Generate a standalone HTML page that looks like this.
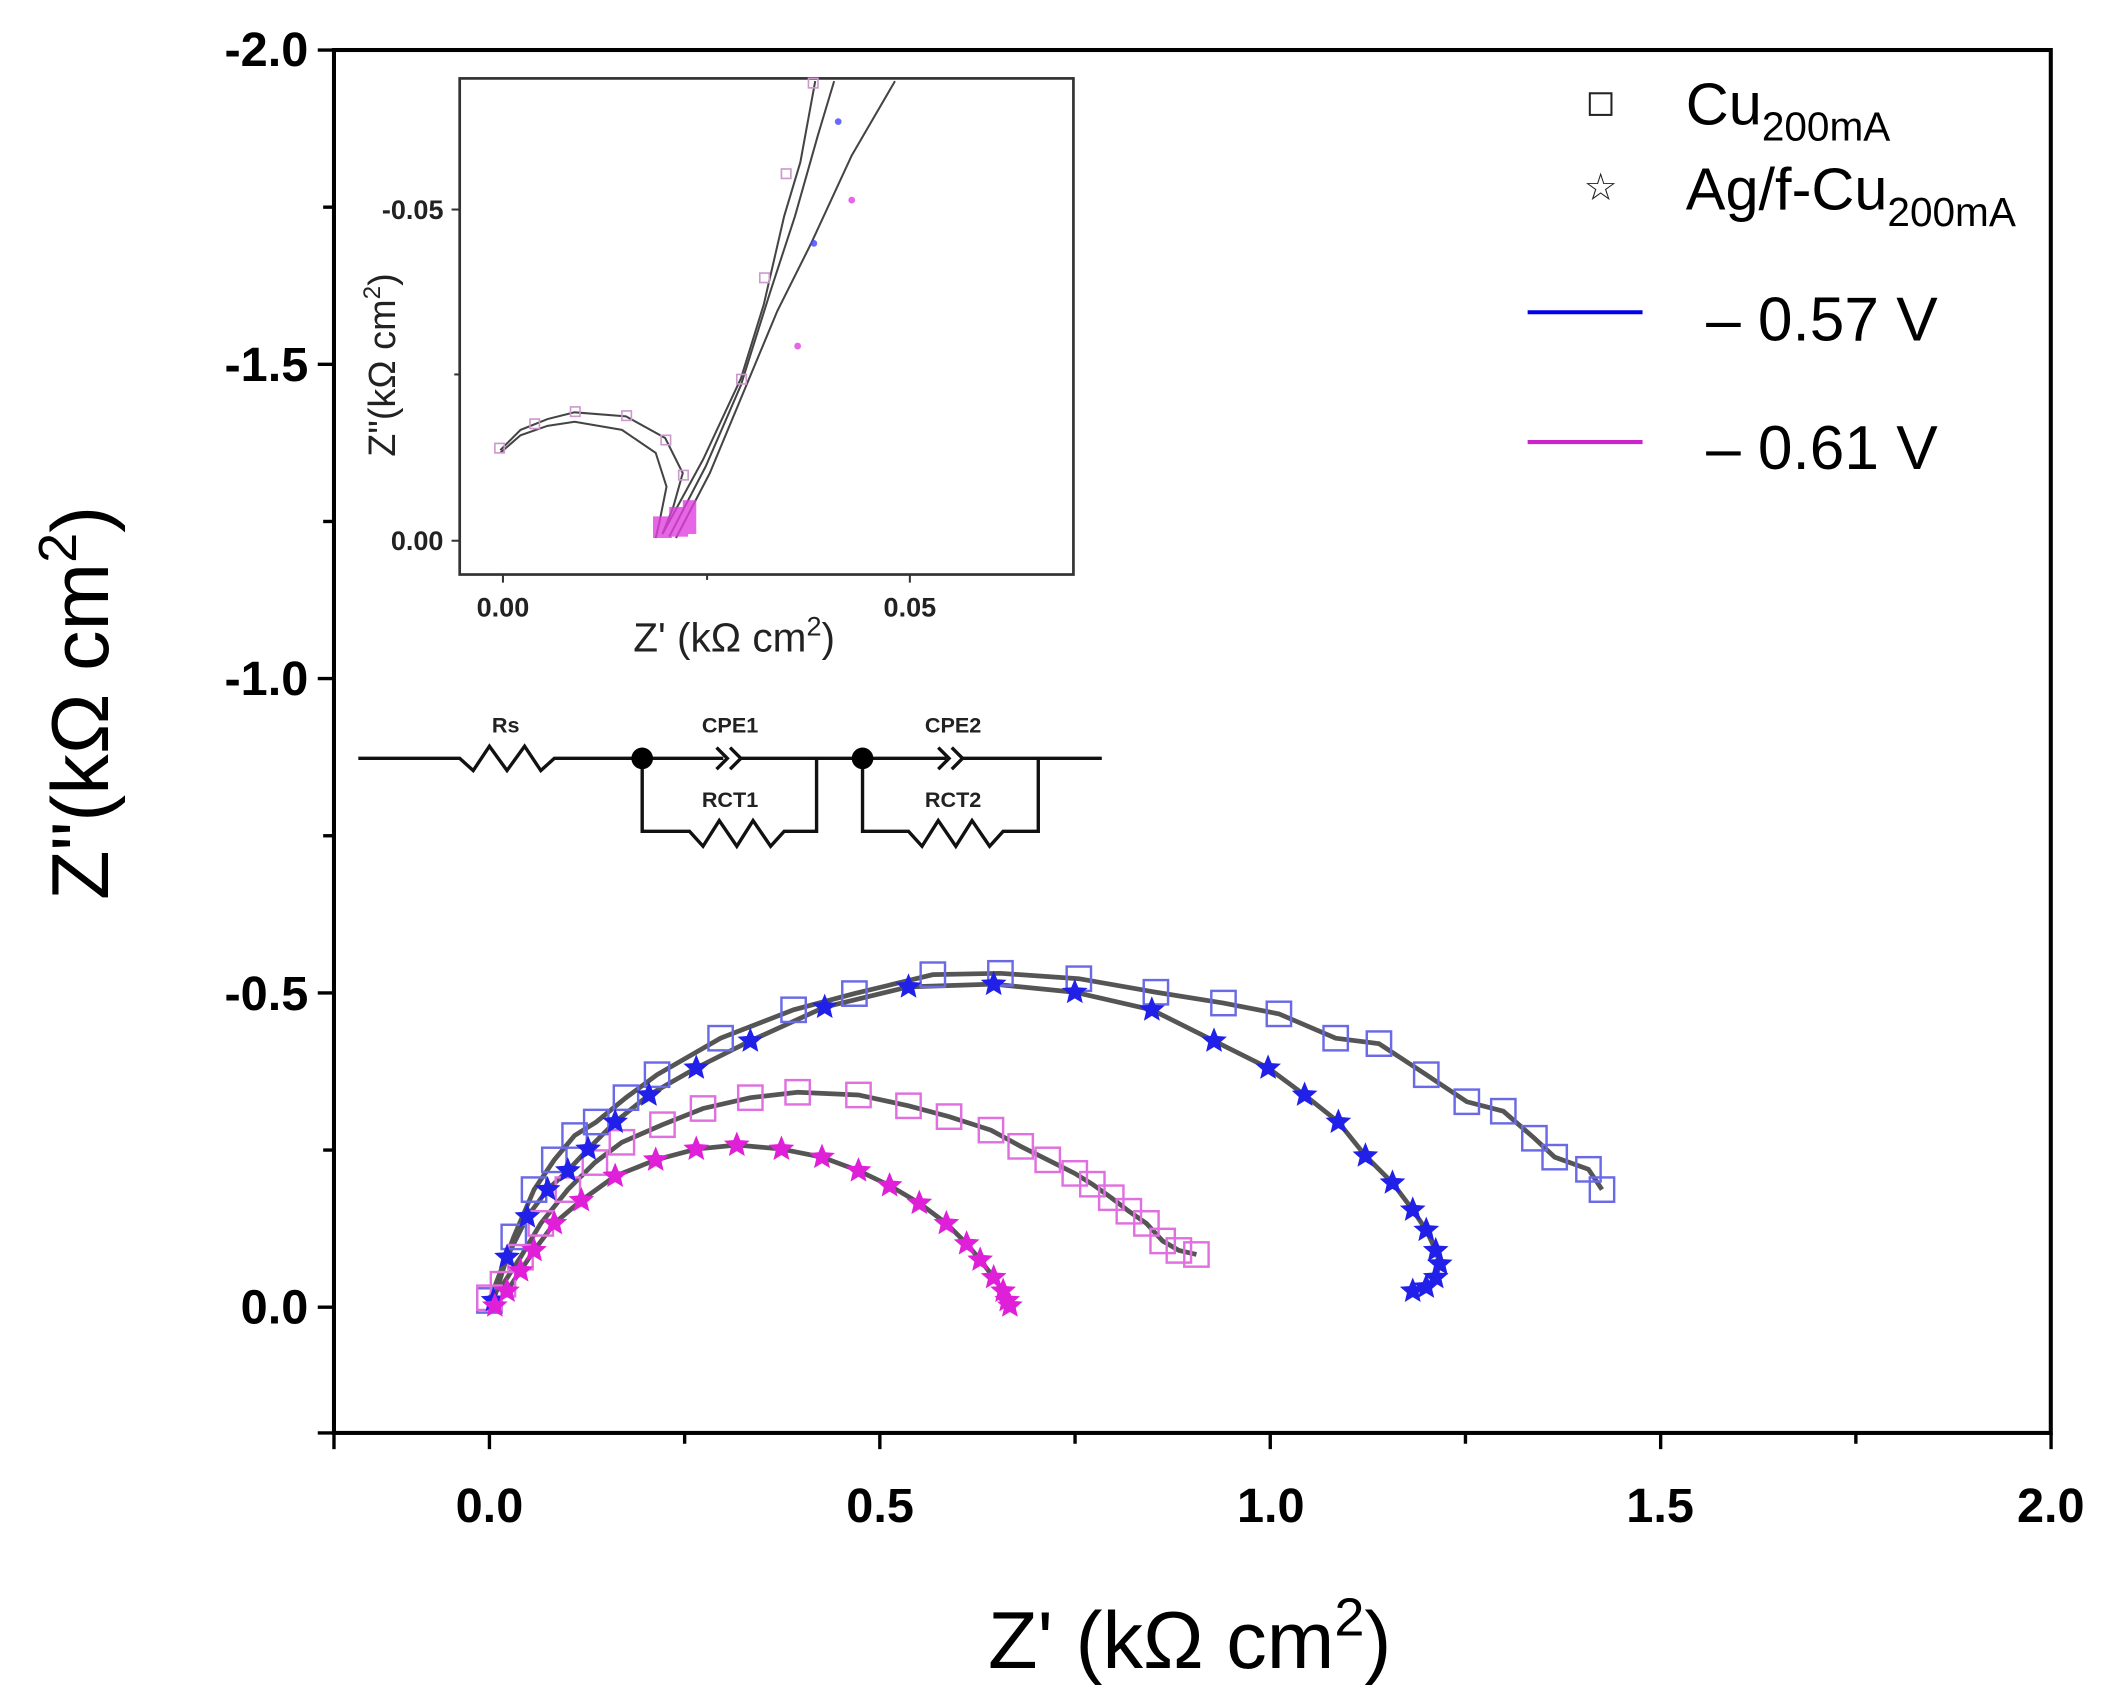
<!DOCTYPE html>
<html><head><meta charset="utf-8"><style>
html,body{margin:0;padding:0;background:#fff;}
svg{display:block;}
text{font-family:"Liberation Sans",Arial,sans-serif;}
</style></head><body>
<svg id="s" xmlns="http://www.w3.org/2000/svg" width="2109" height="1706" viewBox="0 0 1560 1262">
<rect width="1560" height="1262" fill="#fff"/>
<g id="axes" stroke="#000" stroke-width="3" fill="none">
<rect x="247" y="37" width="1270" height="1023"/>
</g>
<g id="ticks" stroke="#000" stroke-width="2.5"></g>
<g font-weight="bold" font-size="36" fill="#000" text-anchor="end">
<text x="228" y="49">-2.0</text>
<text x="228" y="282">-1.5</text>
<text x="228" y="514">-1.0</text>
<text x="228" y="747">-0.5</text>
<text x="228" y="979">0.0</text>
</g>
<g font-weight="bold" font-size="36" fill="#000" text-anchor="middle">
<text x="362" y="1126">0.0</text>
<text x="651" y="1126">0.5</text>
<text x="940" y="1126">1.0</text>
<text x="1228" y="1126">1.5</text>
<text x="1517" y="1126">2.0</text>
</g>
<text x="880" y="1234" font-size="60" text-anchor="middle">Z' (kΩ cm<tspan font-size="40" dy="-24">2</tspan><tspan dy="24">)</tspan></text>
<text transform="translate(80,520) rotate(-90)" font-size="60" text-anchor="middle">Z"(kΩ cm<tspan font-size="40" dy="-24">2</tspan><tspan dy="24">)</tspan></text>

<!-- inset -->
<rect x="340" y="58" width="454" height="367" fill="#fff" stroke="#333" stroke-width="2"/>
<g stroke="#333" stroke-width="1.5">
<line x1="372" y1="425" x2="372" y2="431"/><line x1="673" y1="425" x2="673" y2="431"/>
<line x1="523" y1="425" x2="523" y2="429"/>
<line x1="340" y1="400" x2="334" y2="400"/><line x1="340" y1="155" x2="334" y2="155"/>
<line x1="340" y1="277" x2="336" y2="277"/>
</g>
<g font-size="20" font-weight="bold" fill="#222">
<text x="372" y="456" text-anchor="middle">0.00</text>
<text x="673" y="456" text-anchor="middle">0.05</text>
<text x="328" y="407" text-anchor="end">0.00</text>
<text x="328" y="162" text-anchor="end">-0.05</text>
</g>
<text x="543" y="482" font-size="30" text-anchor="middle" fill="#222">Z' (kΩ cm<tspan font-size="20" dy="-12">2</tspan><tspan dy="12">)</tspan></text>
<text transform="translate(292,270) rotate(-90)" font-size="28" text-anchor="middle" fill="#222">Z"(kΩ cm<tspan font-size="18" dy="-11">2</tspan><tspan dy="11">)</tspan></text>
<g fill="none" stroke="#444" stroke-width="1.5">
<polyline points="370,333 385,318 405,310 425,305 463,308 492,324 505,350 498,375 490,395"/>
<polyline points="370,335 385,322 405,315 425,312 460,318 485,335 493,360 488,385 485,398"/>
<polyline points="490,395 520,340 548,280 565,225 580,160 592,120 603,60"/>
<polyline points="495,397 522,345 548,285 570,215 588,160 605,100 617,60"/>
<polyline points="500,398 525,350 550,290 575,230 600,180 630,115 662,60"/>
</g>
<g fill="none" stroke="#c9c" stroke-width="1.2">
<rect x="366" y="328" width="7" height="7"/><rect x="392" y="310" width="7" height="7"/><rect x="422" y="301" width="7" height="7"/><rect x="460" y="304" width="7" height="7"/><rect x="489" y="322" width="7" height="7"/><rect x="502" y="348" width="7" height="7"/><rect x="545" y="277" width="7" height="7"/><rect x="578" y="125" width="7" height="7"/><rect x="562" y="202" width="7" height="7"/><rect x="598" y="58" width="7" height="7"/>
</g>
<g fill="#e040e0" opacity="0.8">
<rect x="483" y="382" width="14" height="16"/><rect x="495" y="375" width="14" height="22"/><rect x="505" y="370" width="10" height="25"/>
<circle cx="590" cy="256" r="2.5"/><circle cx="620" cy="90" r="2.5" fill="#44f"/><circle cx="602" cy="180" r="2.5" fill="#44f"/><circle cx="630" cy="148" r="2.5"/>
</g>

<!-- circuit -->
<g stroke="#111" stroke-width="2.5" fill="none">
<polyline points="265,561 340,561 350,570 362,552 375,570 388,552 400,570 410,561 475,561 535,561"/>
<polyline points="530,553 538,561 530,569"/>
<polyline points="540,553 548,561 540,569"/>
<line x1="548" y1="561" x2="638" y2="561"/>
<polyline points="475,561 475,615 510,615 520,626 532,607 545,626 557,607 570,626 580,615 604,615 604,561"/>
<line x1="638" y1="561" x2="700" y2="561"/>
<polyline points="694,553 702,561 694,569"/>
<polyline points="704,553 712,561 704,569"/>
<line x1="712" y1="561" x2="815" y2="561"/>
<polyline points="638,561 638,615 672,615 682,626 694,607 707,626 719,607 732,626 742,615 768,615 768,561"/>
</g>
<circle cx="475" cy="561" r="8" fill="#000"/><circle cx="638" cy="561" r="8" fill="#000"/>
<g font-size="16" font-weight="bold" fill="#222" text-anchor="middle">
<text x="374" y="542">Rs</text><text x="540" y="542">CPE1</text><text x="705" y="542">CPE2</text>
<text x="540" y="597">RCT1</text><text x="705" y="597">RCT2</text>
</g>

<!-- legend -->
<rect x="1176" y="69" width="16" height="16" fill="none" stroke="#222" stroke-width="1.5"/>
<text x="1184" y="148" font-size="28" text-anchor="middle" fill="#222">☆</text>
<text x="1247" y="92" font-size="44">Cu<tspan font-size="30" dy="12">200mA</tspan></text>
<text x="1247" y="155" font-size="44">Ag/f-Cu<tspan font-size="30" dy="12">200mA</tspan></text>
<line x1="1130" y1="231" x2="1215" y2="231" stroke="#0000ee" stroke-width="3"/>
<line x1="1130" y1="327" x2="1215" y2="327" stroke="#cc22cc" stroke-width="3"/>
<text x="1262" y="252" font-size="46">– 0.57 V</text>
<text x="1262" y="347" font-size="46">– 0.61 V</text>

<g id="data"></g>
</svg>
<script>
var NS="http://www.w3.org/2000/svg";
function el(p,t,a){var e=document.createElementNS(NS,t);for(var k in a)e.setAttribute(k,a[k]);p.appendChild(e);return e;}
var tk=document.getElementById('ticks');
for(var i=0;i<=8;i++){var y=37+i*116.25;el(tk,'line',{x1:247,y1:y,x2:(i%2?239:235),y2:y});}
var y0=1060;el(tk,'line',{x1:247,y1:y0,x2:235,y2:y0});
for(var i=0;i<=8;i++){var x=362+i*144.4;el(tk,'line',{x1:x,y1:1060,x2:x,y2:(i%2?1068:1072)});}
el(tk,'line',{x1:247,y1:1060,x2:247,y2:1072});
var d=document.getElementById('data');
function P(s){return s.trim().split(/\s+/).map(function(p){return p.split(',').map(Number);});}
var cuB=P("362,962 380,915 395,880 410,858 425,840 441,830 463,812 486,795 533,768 587,747 632,735 690,721 740,720 798,724 855,734 905,742 946,750 988,768 1020,772 1055,795 1085,815 1112,822 1135,842 1150,856 1175,865 1185,880");
var agB=P("365,962 375,930 390,900 405,880 420,866 435,850 455,830 480,810 515,790 555,770 610,745 672,730 735,728 795,734 852,747 898,770 938,790 965,810 990,830 1010,855 1030,875 1045,895 1055,910 1062,925 1065,935 1062,945 1055,952 1045,955");
var cuM=P("362,960 372,950 385,930 400,905 420,880 440,860 460,845 490,832 520,820 555,812 590,808 635,810 672,818 702,826 733,836 755,848 775,858 795,868 808,876 822,886 835,896 848,905 860,918 872,925 885,928");
var agM=P("366,966 375,955 385,940 395,925 410,905 430,888 455,870 485,858 515,850 545,847 578,850 608,856 635,866 658,877 680,890 700,905 715,920 725,932 735,945 742,955 745,962 747,966");
function line(pts){el(d,'polyline',{points:pts.map(function(p){return p.join(',')}).join(' '),fill:'none',stroke:'#555',"stroke-width":3.5});}
[cuB,agB,cuM,agM].forEach(line);
function squares(pts,c){pts.forEach(function(p){el(d,'rect',{x:p[0]-9,y:p[1]-9,width:18,height:18,fill:'none',stroke:c,"stroke-width":1.8});});}
function star(cx,cy,r,c){var s=[];for(var i=0;i<10;i++){var a=-Math.PI/2+i*Math.PI/5,rr=i%2?r*0.45:r;s.push((cx+rr*Math.cos(a)).toFixed(1)+','+(cy+rr*Math.sin(a)).toFixed(1));}el(d,'polygon',{points:s.join(' '),fill:c});}
squares(cuB,'#6a6ae6');squares(cuM,'#e070e0');
agB.forEach(function(p){star(p[0],p[1],10,'#2020e8');});
agM.forEach(function(p){star(p[0],p[1],10,'#e020d8');});
</script>
</body></html>
